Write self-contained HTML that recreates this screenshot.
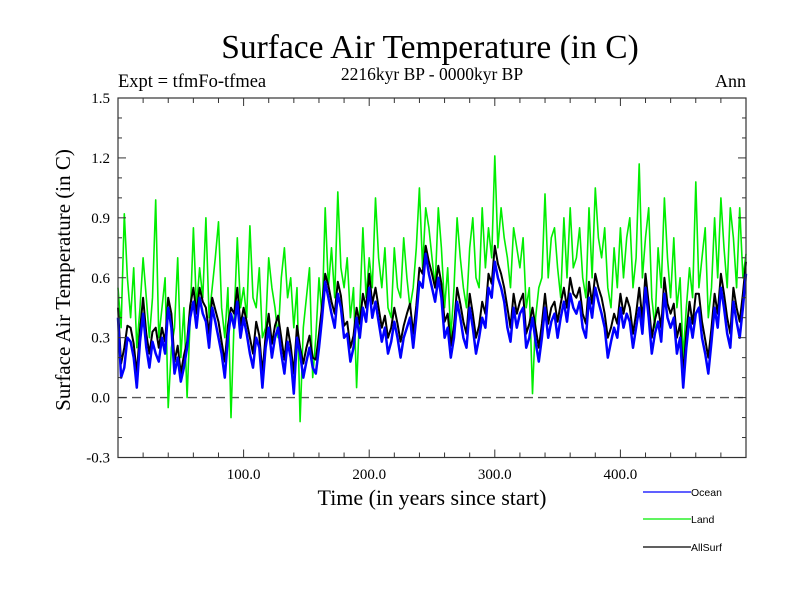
<!DOCTYPE html>
<html><head><meta charset="utf-8"><style>
body{margin:0;background:#fff;}
svg text{font-family:"Liberation Serif",serif;fill:#000;}
</style></head><body>
<svg id="chart" width="800" height="600" xmlns="http://www.w3.org/2000/svg">
<text x="430" y="58" font-size="33.5" text-anchor="middle">Surface Air Temperature (in C)</text>
<text x="432" y="80" font-size="17.5" text-anchor="middle">2216kyr BP - 0000kyr BP</text>
<text x="118" y="87" font-size="18.5">Expt = tfmFo-tfmea</text>
<text x="746" y="87" font-size="18" text-anchor="end">Ann</text>
<text transform="translate(70,280) rotate(-90)" font-size="21" text-anchor="middle">Surface Air Temperature (in C)</text>
<text x="432" y="505" font-size="22" text-anchor="middle">Time (in years since start)</text>
<g id="plot"></g>
<g id="legend"></g>
</svg>
<script>
const oceanMain = [0.40,0.15,0.28,0.05,0.42,0.15,0.22,0.30,0.45,0.12,
0.08,0.25,0.48,0.50,0.38,0.45,0.30,0.10,0.42,0.48,
0.40,0.22,0.30,0.05,0.35,0.30,0.22,0.28,0.02,0.22,
0.18,0.15,0.25,0.58,0.42,0.52,0.30,0.18,0.40,0.45,
0.55,0.48,0.28,0.22,0.38,0.20,0.35,0.25,0.58,0.72,
0.55,0.60,0.30,0.20,0.48,0.30,0.45,0.22,0.40,0.55,
0.68,0.55,0.35,0.45,0.42,0.25,0.40,0.18,0.45,0.38,
0.30,0.48,0.52,0.42,0.35,0.50,0.55,0.42,0.20,0.35,
0.45,0.42,0.25,0.45,0.55,0.22,0.38,0.52,0.35,0.22,
0.05,0.40,0.42,0.30,0.12,0.45,0.55,0.32,0.48,0.30,0.62];
const oceanMid = [0.10,0.30,0.20,0.28,0.25,0.28,0.18,0.22,0.35,0.20,
0.15,0.40,0.35,0.42,0.25,0.38,0.22,0.30,0.35,0.30,
0.32,0.15,0.25,0.25,0.20,0.35,0.12,0.20,0.30,0.10,
0.25,0.12,0.40,0.50,0.35,0.45,0.32,0.25,0.30,0.38,
0.40,0.38,0.35,0.28,0.30,0.30,0.40,0.40,0.55,0.62,
0.48,0.50,0.35,0.30,0.40,0.25,0.35,0.30,0.35,0.50,
0.60,0.48,0.28,0.35,0.45,0.30,0.28,0.30,0.30,0.42,
0.40,0.38,0.45,0.48,0.30,0.40,0.48,0.35,0.28,0.30,
0.35,0.38,0.35,0.32,0.40,0.32,0.28,0.40,0.40,0.30,
0.25,0.30,0.45,0.22,0.28,0.35,0.45,0.25,0.38,0.45];
const landMain = [0.55,0.92,0.40,0.25,0.70,0.30,0.99,0.45,-0.05,0.35,
0.20,0.00,0.85,0.65,0.90,0.55,0.88,0.30,-0.10,0.80,
0.55,0.86,0.45,0.30,0.70,0.45,0.60,0.50,0.35,-0.12,
0.50,0.10,0.60,0.95,0.75,1.03,0.55,0.40,0.05,0.85,
0.70,1.00,0.55,0.45,0.75,0.50,0.60,0.55,1.05,0.95,
0.70,0.95,0.45,0.30,0.90,0.55,0.75,0.60,0.95,0.85,
1.21,0.95,0.70,0.85,0.65,0.45,0.02,0.55,1.02,0.80,
0.65,0.90,0.95,0.70,0.60,0.95,1.05,0.70,0.55,0.75,
0.85,0.80,0.55,1.17,0.80,0.50,0.75,1.00,0.50,0.45,
0.20,0.65,1.08,0.70,0.40,0.90,1.00,0.55,0.80,0.95,0.72];
const landMid = [0.35,0.60,0.65,0.45,0.50,0.50,0.30,0.60,0.25,0.70,
0.45,0.40,0.45,0.50,0.40,0.70,0.45,0.55,0.40,0.45,
0.40,0.50,0.65,0.35,0.55,0.30,0.75,0.60,0.55,0.35,
0.65,0.30,0.40,0.55,0.50,0.65,0.70,0.55,0.45,0.50,
0.55,0.70,0.75,0.40,0.55,0.80,0.45,0.75,0.65,0.85,
0.55,0.75,0.65,0.55,0.70,0.45,0.90,0.55,0.65,0.70,
0.75,0.80,0.55,0.75,0.80,0.55,0.40,0.60,0.60,0.85,
0.50,0.60,0.65,0.85,0.50,0.60,0.80,0.85,0.45,0.55,
0.60,0.90,0.70,0.60,0.95,0.35,0.55,0.70,0.80,0.60,
0.45,0.50,0.55,0.85,0.55,0.60,0.75,0.95,0.55,0.60];
const allMain = [0.45,0.25,0.35,0.12,0.50,0.22,0.35,0.35,0.50,0.18,
0.12,0.28,0.55,0.55,0.45,0.50,0.38,0.18,0.45,0.55,
0.45,0.30,0.38,0.12,0.42,0.36,0.30,0.35,0.12,0.25,
0.25,0.20,0.32,0.62,0.48,0.58,0.36,0.25,0.45,0.52,
0.62,0.55,0.35,0.30,0.45,0.28,0.42,0.32,0.65,0.76,
0.62,0.66,0.38,0.26,0.55,0.38,0.52,0.30,0.48,0.62,
0.76,0.62,0.45,0.52,0.48,0.32,0.45,0.25,0.52,0.45,
0.38,0.55,0.60,0.50,0.42,0.58,0.62,0.50,0.30,0.42,
0.52,0.50,0.32,0.55,0.62,0.30,0.45,0.60,0.42,0.30,
0.12,0.48,0.52,0.38,0.20,0.52,0.62,0.40,0.55,0.38,0.68];
const allMid = [0.17,0.36,0.27,0.34,0.32,0.33,0.25,0.28,0.42,0.26,
0.21,0.46,0.42,0.48,0.32,0.44,0.28,0.36,0.42,0.36,
0.38,0.22,0.31,0.31,0.27,0.41,0.19,0.26,0.36,0.17,
0.31,0.19,0.46,0.56,0.42,0.51,0.38,0.31,0.37,0.45,
0.47,0.45,0.41,0.35,0.37,0.36,0.47,0.46,0.62,0.68,
0.55,0.57,0.42,0.36,0.47,0.32,0.42,0.36,0.42,0.57,
0.67,0.55,0.35,0.42,0.52,0.37,0.35,0.37,0.37,0.48,
0.47,0.45,0.52,0.55,0.37,0.47,0.55,0.42,0.35,0.37,
0.42,0.45,0.42,0.39,0.47,0.39,0.35,0.47,0.47,0.37,
0.32,0.37,0.52,0.29,0.35,0.42,0.52,0.32,0.45,0.52];
const yTicks = [-0.3,0.0,0.3,0.6,0.9,1.2,1.5];
const yTickLabels = ["-0.3","0.0","0.3","0.6","0.9","1.2","1.5"];
const xTicks = [100,200,300,400];
const xTickLabels = ["100.0","200.0","300.0","400.0"];

function interleave(main, mid) {
  const out = [];
  main.forEach((v, i) => {
    out.push(v);
    if (i < mid.length) out.push(mid[i]);
  });
  return out;
}
const ocean = interleave(oceanMain, oceanMid);
const land = interleave(landMain, landMid);
const allSurf = interleave(allMain, allMid);

const NS = "http://www.w3.org/2000/svg";
const L = 118, R = 746, T = 98, B = 457.5;
const xMin = 0, xMax = 500, yMin = -0.3, yMax = 1.5;
const xs = v => L + (v - xMin) / (xMax - xMin) * (R - L);
const ys = v => B - (v - yMin) / (yMax - yMin) * (B - T);
const plot = document.getElementById('plot');
function mk(tag, attrs, parent) {
  const e = document.createElementNS(NS, tag);
  for (const k in attrs) e.setAttribute(k, attrs[k]);
  parent.appendChild(e);
  return e;
}
const z = mk('line', {x1: L, x2: R, y1: ys(0), y2: ys(0), stroke: '#555', 'stroke-width': 1.3, 'stroke-dasharray': '9,5'}, plot);


function series(vals, color, w, name) {
  const step = (xMax - xMin) / (vals.length - 1);
  const d = vals.map((v, i) => (i ? 'L' : 'M') + xs(xMin + i * step).toFixed(1) + ',' + ys(v).toFixed(1)).join('');
  const p = mk('path', {d: d, fill: 'none', stroke: color, 'stroke-width': w, 'stroke-linejoin': 'round'}, plot);
  
  
}
series(land, '#00ee00', 1.6, 'land-series-line');
series(allSurf, '#000', 2, 'allsurf-series-line');
series(ocean, '#0000ff', 2.5, 'ocean-series-line');
const fr = mk('rect', {x: L, y: T, width: R - L, height: B - T, fill: 'none', stroke: '#333', 'stroke-width': 1.2}, plot);


for (let k = -3; k <= 15; k++) {
  const v = k / 10;
  const major = k % 3 === 0;
  const len = major ? 8 : 4;
  const y = ys(v);
  mk('line', {x1: L, x2: L + len, y1: y, y2: y, stroke: '#333'}, plot);
  mk('line', {x1: R, x2: R - len, y1: y, y2: y, stroke: '#333'}, plot);
}
yTicks.forEach((v, i) => {
  const t = mk('text', {x: 110, y: ys(v) + 5, 'font-size': 15, 'text-anchor': 'end'}, plot);
  t.textContent = yTickLabels[i];
  
  
});
for (let v = 20; v < 500; v += 20) {
  const major = v % 100 === 0;
  const len = major ? 8 : 5;
  const x = xs(v);
  mk('line', {x1: x, x2: x, y1: B, y2: B - len, stroke: '#333'}, plot);
  mk('line', {x1: x, x2: x, y1: T, y2: T + len, stroke: '#333'}, plot);
}
xTicks.forEach((v, i) => {
  const t = mk('text', {x: xs(v), y: 479, 'font-size': 15, 'text-anchor': 'middle'}, plot);
  t.textContent = xTickLabels[i];
  
  
});
const lg = document.getElementById('legend');
[['Ocean', '#0000ff', 492, 'legend-entry-ocean'], ['Land', '#00ee00', 519, 'legend-entry-land'], ['AllSurf', '#000', 547, 'legend-entry-allsurf']].forEach(e => {
  const g = mk('g', {}, lg);
  
  
  mk('line', {x1: 643, x2: 691, y1: e[2], y2: e[2], stroke: e[1], 'stroke-width': 1.2}, g);
  const t = mk('text', {x: 691, y: e[2] + 4, 'font-size': 10.5, style: 'font-family:"Liberation Sans",sans-serif'}, g);
  t.textContent = e[0];
});
</script>
</body></html>
